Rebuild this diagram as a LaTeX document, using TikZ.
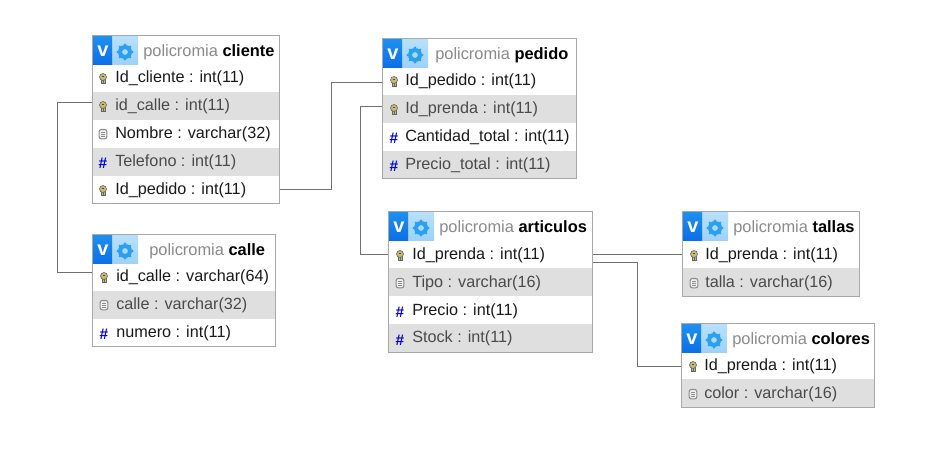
\documentclass[tikz,border=0pt]{standalone}
\usepackage{fontspec}
\setmainfont{Liberation Sans}
\usetikzlibrary{calc}
\definecolor{rowgray}{HTML}{DFDFDF}
\definecolor{framegray}{HTML}{A8A8A8}
\definecolor{linkgray}{HTML}{707070}
\definecolor{vblue}{HTML}{0A70E8}
\definecolor{vtop}{HTML}{1E90F0}
\definecolor{hlight}{HTML}{9CD2FA}
\definecolor{hpale}{HTML}{B8E0FB}
\definecolor{gearblue}{HTML}{2AA0EE}
\definecolor{txtdark}{HTML}{1A1A1A}
\definecolor{txtdim}{HTML}{4A4A4A}
\definecolor{txtgray}{HTML}{8A8A8A}
\definecolor{keygold}{HTML}{C9B96E}
\tikzset{
  x=0.75pt,y=-0.75pt,
  rowtext/.style={anchor=west,inner sep=0pt,yshift=-0.4pt,text=txtdark,font=\fontsize{12.15}{14}\selectfont},
  dimtext/.style={rowtext,text=txtdim},
  headtext/.style={anchor=west,inner sep=0pt,font=\fontsize{12.3}{14}\selectfont},
  frame/.style={draw=framegray,line width=0.9pt,fill=none},
  link/.style={draw=linkgray,line width=0.7pt},
  hashmark/.style={anchor=center,inner sep=0pt,text=blue!90!black,font=\fontsize{11.5}{12}\bfseries\selectfont}
}
\newcommand{\keyicon}[2]{%
  \fill[keygold,draw=black!60,line width=0.45pt] (#1-2.2,#2) rectangle (#1+2.2,#2+5.5);
  \fill[keygold,draw=black!60,line width=0.45pt] (#1,#2-1) circle (3.5);
  \fill[black!70] (#1-1.1,#2-2.4) rectangle (#1+1.1,#2-1);
  \draw[black!60,line width=0.5pt] (#1,#2+1.5) -- (#1,#2+5);}
\newcommand{\fieldicon}[2]{%
  \draw[black!45,fill=black!6,line width=0.8pt,rounded corners=1.5pt] (#1-3.8,#2-4.5) rectangle (#1+3.8,#2+4.8);
  \draw[black!45,line width=0.6pt] (#1-2,#2-1.8) -- (#1+2,#2-1.8) (#1-2,#2+0.2) -- (#1+2,#2+0.2) (#1-2,#2+2.2) -- (#1+2,#2+2.2);}
\newcommand{\hashicon}[2]{\node[hashmark] at (#1,#2+1) {\#};}
% \dbheader{name}{x1}{y1}{textx}{label}
\newcommand{\dbheader}[5]{%
  \shade[top color=hpale,bottom color=hlight] (#2,#3) rectangle (#2+45,#3+28);
  \shade[top color=vtop,bottom color=vblue] (#2,#3) rectangle (#2+19,#3+28);
  \node[inner sep=0pt,text=white,font=\fontsize{15}{15}\bfseries\selectfont] at (#2+10,#3+15) {v};
  \fill[gearblue,even odd rule] (#2+32,#3+16) circle (7) (#2+32,#3+16) circle (3);
  \foreach \a in {0,45,...,315}{\fill[gearblue] ($(#2+32,#3+16)+(\a:7.2)$) circle (1.4);}
  \node[headtext] (#1) at (#4,#3+16) {\textcolor{txtgray}{policromia} \textcolor{black}{\textbf{#5}}};}
\newcommand{\dbrowshade}[3]{\fill[rowgray] (#1,#3) rectangle (#2,#3+28);}
\begin{document}
\begin{tikzpicture}
\useasboundingbox (0,0) rectangle (949,461);
\fill[white] (0,0) rectangle (949,461);
\coordinate (cA) at (92.5,102.5);
\coordinate (cB) at (93,272.5);
\coordinate (cC) at (279.5,189.5);
\coordinate (cD) at (382.5,82.5);
\coordinate (cE) at (382.5,106.5);
\coordinate (cF) at (388.5,254.5);
\coordinate (cG) at (592.5,254.5);
\coordinate (cH) at (682.5,254.5);
\coordinate (cI) at (592.5,262.5);
\coordinate (cJ) at (681.5,366.5);
\draw[link] (cA) -- (57,102.5) -- (57,272.5) -- (cB);
\draw[link] (cC) -- (331.5,189.5) -- (331.5,82.5) -- (cD);
\draw[link] (cE) -- (360.5,106.5) -- (360.5,254.5) -- (cF);
\draw[link] (cG) -- (cH);
\draw[link] (cI) -- (637.5,262.5) -- (637.5,366.5) -- (cJ);
% cliente
\dbrowshade{93}{279}{92}\dbrowshade{93}{279}{148}
\dbheader{cliente}{93}{36}{143}{cliente}
\keyicon{103}{78}\keyicon{103}{106}\fieldicon{103}{134}\hashicon{103}{162}\keyicon{103}{190}
\node[rowtext] (c1) at (115,78) {Id\_cliente : int(11)};
\node[dimtext] (c2) at (115,106) {id\_calle : int(11)};
\node[rowtext] (c3) at (115,134) {Nombre : varchar(32)};
\node[dimtext] (c4) at (115,162) {Telefono : int(11)};
\node[rowtext] (c5) at (115,190) {Id\_pedido : int(11)};
\draw[frame] (92.5,35.5) rectangle (279.5,203.5);
% calle
\dbrowshade{93}{275}{291}
\dbheader{calle}{93}{235}{149}{calle}
\keyicon{104}{277}\fieldicon{104}{305}\hashicon{104}{333}
\node[rowtext] (l1) at (116,277) {id\_calle : varchar(64)};
\node[dimtext] (l2) at (116,305) {calle : varchar(32)};
\node[rowtext] (l3) at (116,333) {numero : int(11)};
\draw[frame] (92.5,234.5) rectangle (275.5,346.5);
% pedido
\dbrowshade{382}{576}{95}\dbrowshade{382}{576}{151}
\dbheader{pedido}{383}{39}{435}{pedido}
\keyicon{394}{81}\keyicon{394}{109}\hashicon{394}{137}\hashicon{394}{165}
\node[rowtext] (p1) at (405,81) {Id\_pedido : int(11)};
\node[dimtext] (p2) at (405,109) {Id\_prenda : int(11)};
\node[rowtext] (p3) at (405,137) {Cantidad\_total : int(11)};
\node[dimtext] (p4) at (405,165) {Precio\_total : int(11)};
\draw[frame] (382.5,38.5) rectangle (576.5,178.5);
% articulos
\dbrowshade{389}{592}{268}\dbrowshade{389}{592}{324}
\dbheader{articulos}{389}{212}{439}{articulos}
\keyicon{400}{255}\fieldicon{400}{283}\hashicon{400}{311}\hashicon{400}{339}
\node[rowtext] (a1) at (412,255) {Id\_prenda : int(11)};
\node[dimtext] (a2) at (412,283) {Tipo : varchar(16)};
\node[rowtext] (a3) at (412,311) {Precio : int(11)};
\node[dimtext] (a4) at (412,338) {Stock : int(11)};
\draw[frame] (388.5,211.5) rectangle (592.5,352.5);
% tallas
\dbrowshade{683}{859}{268}
\dbheader{tallas}{683}{212}{733}{tallas}
\keyicon{694}{255}\fieldicon{694}{283}
\node[rowtext] (t1) at (705,255) {Id\_prenda : int(11)};
\node[dimtext] (t2) at (705,283) {talla : varchar(16)};
\draw[frame] (682.5,211.5) rectangle (859.5,296.5);
% colores
\dbrowshade{682}{874}{379}
\dbheader{colores}{682}{324}{732}{colores}
\keyicon{693}{366}\fieldicon{693}{394}
\node[rowtext] (o1) at (704,366) {Id\_prenda : int(11)};
\node[dimtext] (o2) at (704,394) {color : varchar(16)};
\draw[frame] (681.5,323.5) rectangle (874.5,407.5);
\end{tikzpicture}
\end{document}
